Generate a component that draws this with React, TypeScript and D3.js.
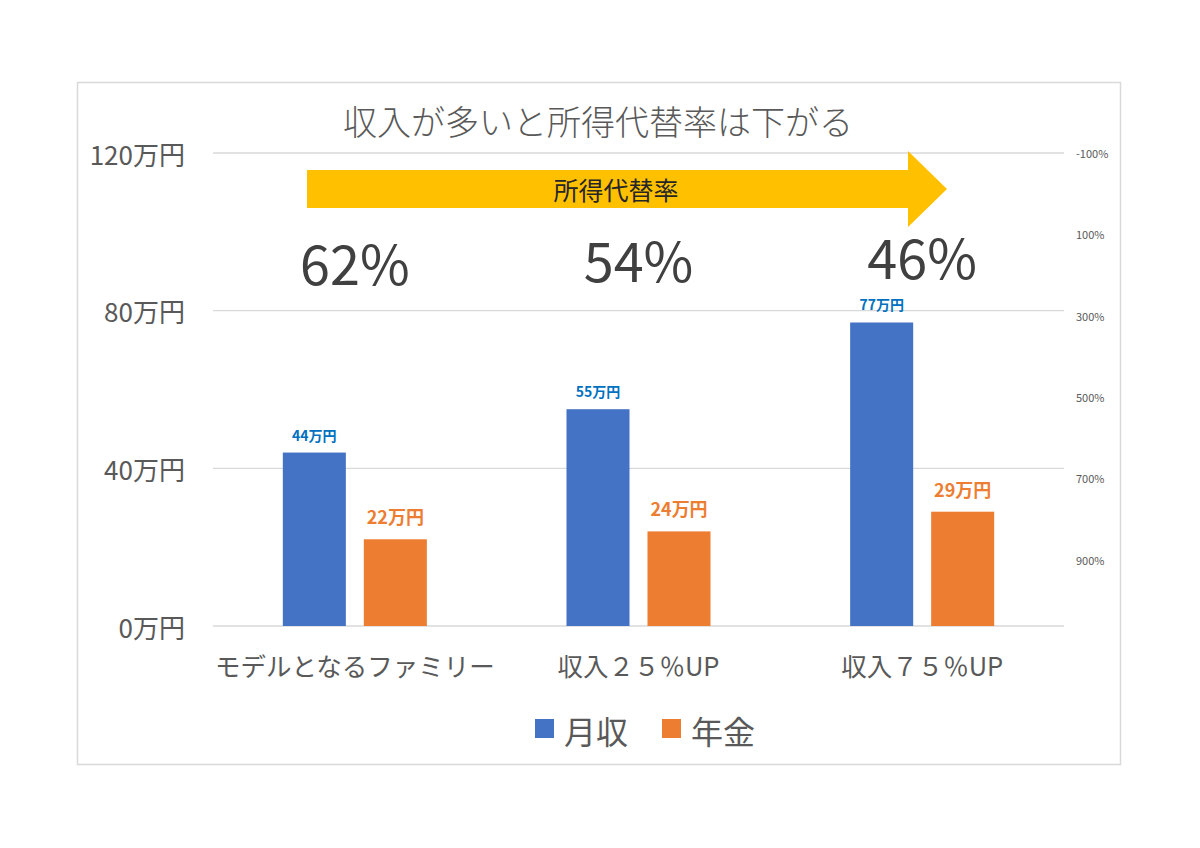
import React from "react";
import * as d3 from "d3";

const categories = ["モデルとなるファミリー", "収入２５％UP", "収入７５％UP"];
const seriesNames = ["月収", "年金"];
const monthlyIncome = [44, 55, 77];
const pension = [22, 24, 29];
const replacementRate = [62, 54, 46];
const leftTicks = [0, 40, 80, 120];
const rightTicks = [-100, 100, 300, 500, 700, 900];

const W = 1200;
const H = 848;
const FONT = "'Noto Sans CJK JP', 'Noto Sans', sans-serif";
const colors = ["#4472C4", "#ED7D31"];
const labelColors = ["#0070C0", "#ED7D31"];

export default function App() {
  const plotLeft = 213;
  const plotRight = 1064;
  const y = d3.scaleLinear().domain([0, 120]).range([626, 153]);
  const yR = d3.scaleLinear().domain([-100, 900]).range([153, 559.5]);
  const x0 = d3.scaleBand<string>().domain(categories).range([plotLeft, plotRight]).paddingInner(0).paddingOuter(0);
  const x1 = d3
    .scaleBand<string>()
    .domain(seriesNames)
    .range([0, x0.bandwidth()])
    .paddingInner(0.222)
    .paddingOuter(0.862);
  const seriesValues = [monthlyIncome, pension];

  const arrow = { x0: 307, x1: 908, tip: 947, top: 170, bot: 208, htop: 151, hbot: 227 };
  const midY = (arrow.top + arrow.bot) / 2;
  const arrowPath = d3.path();
  arrowPath.moveTo(arrow.x0, arrow.top);
  arrowPath.lineTo(arrow.x1, arrow.top);
  arrowPath.lineTo(arrow.x1, arrow.htop);
  arrowPath.lineTo(arrow.tip, midY);
  arrowPath.lineTo(arrow.x1, arrow.hbot);
  arrowPath.lineTo(arrow.x1, arrow.bot);
  arrowPath.lineTo(arrow.x0, arrow.bot);
  arrowPath.closePath();

  return (
    <svg
      width={W}
      height={H}
      style={{ position: "absolute", left: 0, top: 0, background: "#fff" }}
      fontFamily={FONT}
    >
      <rect x={0} y={0} width={W} height={H} fill="#fff" />
      <rect x={77.5} y={82.5} width={1043} height={682} fill="none" stroke="#d9d9d9" strokeWidth={1.5} />

      {leftTicks.map((t) => (
        <line key={t} x1={plotLeft} x2={plotRight} y1={y(t)} y2={y(t)} stroke="#d9d9d9" strokeWidth={1.3} />
      ))}

      {leftTicks.map((t) => (
        <text
          key={"l" + t}
          x={185}
          y={y(t)}
          textAnchor="end"
          dominantBaseline="central"
          fontSize={26}
          fill="#595959"
        >
          {t}万円
        </text>
      ))}

      {rightTicks.map((t) => (
        <text key={"r" + t} x={1076} y={yR(t)} dominantBaseline="central" fontSize={11} fill="#595959">
          {t}%
        </text>
      ))}

      <text x={598} y={120} textAnchor="middle" dominantBaseline="central" fontSize={34} fill="#595959" fontWeight={300}>
        収入が多いと所得代替率は下がる
      </text>

      <path d={arrowPath.toString()} fill="#FFC000" />
      <text x={616} y={midY} textAnchor="middle" dominantBaseline="central" fontSize={25} fill="#262626">
        所得代替率
      </text>

      {seriesNames.map((s, si) =>
        categories.map((c, ci) => {
          const v = seriesValues[si][ci];
          const bx = (x0(c) as number) + (x1(s) as number);
          return (
            <rect key={s + c} x={bx} y={y(v)} width={x1.bandwidth()} height={y(0) - y(v)} fill={colors[si]} />
          );
        })
      )}

      {seriesNames.map((s, si) =>
        categories.map((c, ci) => {
          const v = seriesValues[si][ci];
          const cx = (x0(c) as number) + (x1(s) as number) + x1.bandwidth() / 2;
          return (
            <text
              key={"dl" + s + c}
              x={cx}
              y={y(v) - (si === 0 ? 18 : 23)}
              textAnchor="middle"
              dominantBaseline="central"
              fontSize={si === 0 ? 14 : 18}
              fontWeight={700}
              fill={labelColors[si]}
            >
              {v}万円
            </text>
          );
        })
      )}

      {categories.map((c, ci) => (
        <text
          key={"p" + c}
          x={(x0(c) as number) + x0.bandwidth() / 2}
          y={yR(replacementRate[ci]) + 43}
          textAnchor="middle"
          dominantBaseline="central"
          fontSize={54}
          fill="#404040"
        >
          {replacementRate[ci]}%
        </text>
      ))}

      {categories.map((c) => (
        <text
          key={"c" + c}
          x={(x0(c) as number) + x0.bandwidth() / 2}
          y={664}
          textAnchor="middle"
          dominantBaseline="central"
          fontSize={25.5}
          fill="#595959"
        >
          {c}
        </text>
      ))}

      {seriesNames.map((s, i) => {
        const lx = [535, 662][i];
        return (
          <g key={"lg" + s}>
            <rect x={lx} y={719} width={19} height={19} fill={colors[i]} />
            <text x={lx + 29} y={730} dominantBaseline="central" fontSize={32} fill="#595959">
              {s}
            </text>
          </g>
        );
      })}
    </svg>
  );
}
